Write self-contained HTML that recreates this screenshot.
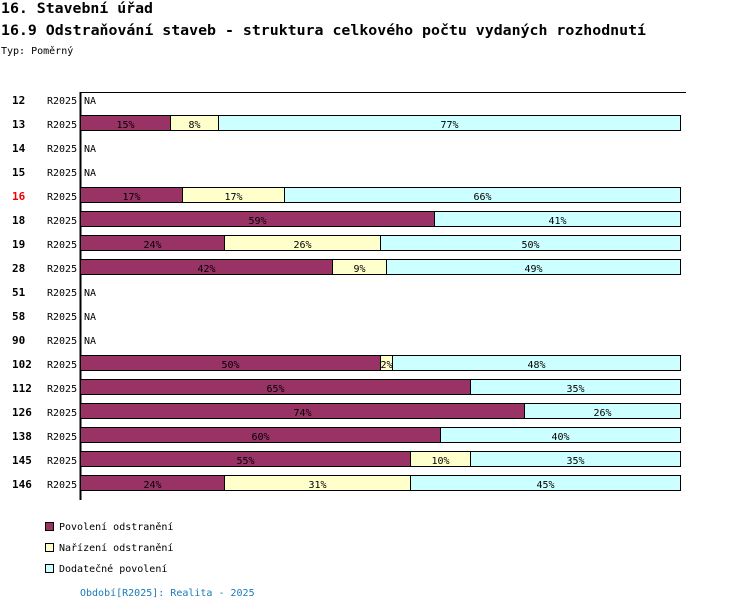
<!DOCTYPE html>
<html><head><meta charset="utf-8"><style>
body{margin:0;background:#fff;width:750px;height:610px;overflow:hidden}
text{font-family:"DejaVu Sans Mono","Liberation Mono",monospace}
</style></head><body>
<svg id="c" width="750" height="610" xmlns="http://www.w3.org/2000/svg">
<text x="1" y="13" font-size="14" font-weight="bold" textLength="152" lengthAdjust="spacingAndGlyphs">16. Stavební úřad</text>
<text x="1" y="35" font-size="14" font-weight="bold" textLength="645" lengthAdjust="spacingAndGlyphs">16.9 Odstraňování staveb - struktura celkového počtu vydaných rozhodnutí</text>
<text x="1" y="54" font-size="10">Typ: Poměrný</text>
<line x1="80" y1="92.5" x2="686" y2="92.5" stroke="#000"/>
<line x1="80.5" y1="92" x2="80.5" y2="500" stroke="#000" stroke-width="2"/>
<g id="rows"></g>
<g>
<rect x="45.5" y="522.5" width="8" height="8" fill="#993366" stroke="#000"/>
<text x="59" y="530" font-size="10">Povolení odstranění</text>
<rect x="45.5" y="543.5" width="8" height="8" fill="#FFFFCC" stroke="#000"/>
<text x="59" y="551" font-size="10">Nařízení odstranění</text>
<rect x="45.5" y="564.5" width="8" height="8" fill="#CCFFFF" stroke="#000"/>
<text x="59" y="572" font-size="10">Dodatečné povolení</text>
</g>
<text x="80" y="596" font-size="10" fill="#1a7ab8">Období[R2025]: Realita - 2025</text>
</svg>
<script>
const categories=["12","13","14","15","16","18","19","28","51","58","90","102","112","126","138","145","146"];
const povoleni=[null,15,null,null,17,59,24,42,null,null,null,50,65,74,60,55,24];
const narizeni=[null,8,null,null,17,0,26,9,null,null,null,2,0,0,0,10,31];
const dodatecne=[null,77,null,null,66,41,50,49,null,null,null,48,35,26,40,35,45];
const colors=["#993366","#FFFFCC","#CCFFFF"];
const ns="http://www.w3.org/2000/svg";
const g=document.getElementById('rows');
const x0=80.5,W=600,y0=100,step=24;
const xs=v=>v/100*W;
function mk(t,a){const e=document.createElementNS(ns,t);for(const k in a)e.setAttribute(k,a[k]);return e;}
categories.forEach((c,i)=>{
 const cy=y0+i*step;
 const l=mk('text',{x:12,y:cy+4,'font-size':11,'font-weight':'bold',fill:c==="16"?"#e00":"#000"});
 
 
 l.textContent=c;g.appendChild(l);
 const p=mk('text',{x:47,y:cy+4,'font-size':10});
 
 
 p.textContent="R2025";g.appendChild(p);
 if(povoleni[i]===null){
  const n=mk('text',{x:84,y:cy+4,'font-size':10});
  
  
  n.textContent="NA";g.appendChild(n);return;
 }
 const vals=[povoleni[i],narizeni[i],dodatecne[i]];
 let x=x0;
 vals.forEach((v,j)=>{
  if(!v)return;
  const w=xs(v);
  const r=mk('rect',{x:x,y:cy-8.5,width:w,height:15,fill:colors[j],stroke:"#000"});
  
  
  g.appendChild(r);
  const t=mk('text',{x:x+w/2,y:cy+4,'font-size':10,'text-anchor':'middle'});
  
  
  t.textContent=v+"%";g.appendChild(t);
  x+=w;
 });
});
</script>
</body></html>
